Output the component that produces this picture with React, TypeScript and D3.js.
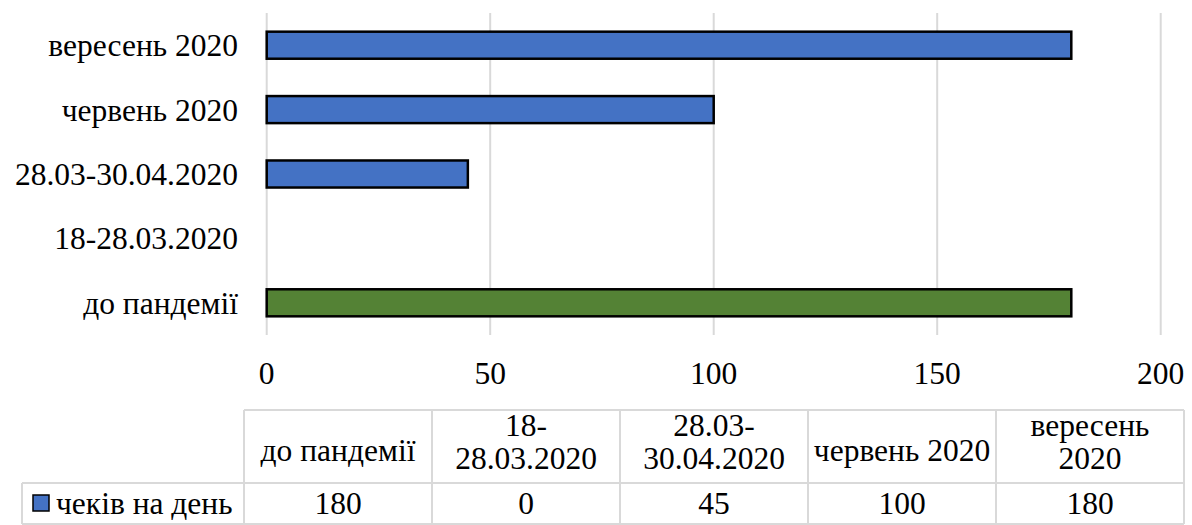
import React from "react";
import * as d3 from "d3";

const categories = ["до пандемії", "18-28.03.2020", "28.03-30.04.2020", "червень 2020", "вересень 2020"];
const values = [180, 0, 45, 100, 180];
const headerLines = [["до пандемії"], ["18-", "28.03.2020"], ["28.03-", "30.04.2020"], ["червень 2020"], ["вересень", "2020"]];
const seriesName = "чеків на день";
const ticks = [0, 50, 100, 150, 200];

const W = 1192;
const H = 525;
const FONT = "'Liberation Serif', 'Times New Roman', serif";
const FS = 31.5;
const BLUE = "#4472C4";
const GREEN = "#548235";
const GRID = "#d9d9d9";

export default function App() {
  const x = d3.scaleLinear().domain([0, 200]).range([266.7, 1160.7]);
  const y = d3
    .scaleBand<string>()
    .domain([...categories].reverse())
    .range([13, 335])
    .paddingInner(0.58)
    .paddingOuter(0.29);
  const col = d3.scaleBand<string>().domain(categories).range([244, 1184]);
  const hdrTop = 410, hdrBot = 483, rowBot = 524, rowLeft = 22;

  return (
    <svg width={W} height={H} style={{ position: "absolute", left: 0, top: 0, background: "#fff" }} fontFamily={FONT}>
      <rect x={0} y={0} width={W} height={H} fill="#fff" />
      {ticks.map((t) => (
        <line key={"g" + t} x1={x(t)} x2={x(t)} y1={13} y2={335} stroke={GRID} strokeWidth={2} />
      ))}
      {ticks.map((t) => (
        <text key={"t" + t} x={x(t)} y={384} fontSize={FS} textAnchor="middle" fill="#000">
          {t}
        </text>
      ))}
      {categories.map((c, i) => {
        const yc = (y(c) as number) + y.bandwidth() / 2;
        return (
          <g key={c}>
            <text x={238} y={yc + 11} fontSize={FS} textAnchor="end" fill="#000">
              {c}
            </text>
            {values[i] > 0 && (
              <rect
                x={x(0)}
                y={y(c)}
                width={x(values[i]) - x(0)}
                height={y.bandwidth()}
                fill={i === 0 ? GREEN : BLUE}
                stroke="#000"
                strokeWidth={2.5}
              />
            )}
          </g>
        );
      })}
      {/* data table */}
      <g stroke={GRID} strokeWidth={2} fill="none">
        <line x1={col.range()[0]} x2={col.range()[1]} y1={hdrTop} y2={hdrTop} />
        <line x1={rowLeft} x2={col.range()[1]} y1={hdrBot} y2={hdrBot} />
        <line x1={rowLeft} x2={col.range()[1]} y1={rowBot} y2={rowBot} />
        <line x1={rowLeft} x2={rowLeft} y1={hdrBot} y2={rowBot} />
        {categories.map((c) => (
          <line key={"v" + c} x1={col(c)} x2={col(c)} y1={hdrTop} y2={rowBot} />
        ))}
        <line x1={col.range()[1]} x2={col.range()[1]} y1={hdrTop} y2={rowBot} />
      </g>
      {categories.map((c, i) => {
        const cx = (col(c) as number) + col.bandwidth() / 2;
        const lines = headerLines[i];
        return (
          <g key={"h" + c}>
            {lines.length === 1 ? (
              <text x={cx} y={461} fontSize={FS} textAnchor="middle">
                {lines[0]}
              </text>
            ) : (
              <>
                <text x={cx} y={436} fontSize={FS} textAnchor="middle">
                  {lines[0]}
                </text>
                <text x={cx} y={469} fontSize={FS} textAnchor="middle">
                  {lines[1]}
                </text>
              </>
            )}
            <text x={cx} y={514} fontSize={FS} textAnchor="middle">
              {values[i]}
            </text>
          </g>
        );
      })}
      <rect x={33} y={495} width={16} height={16} fill={BLUE} stroke="#000" strokeWidth={1.5} />
      <text x={56} y={514} fontSize={FS}>
        {seriesName}
      </text>
    </svg>
  );
}
